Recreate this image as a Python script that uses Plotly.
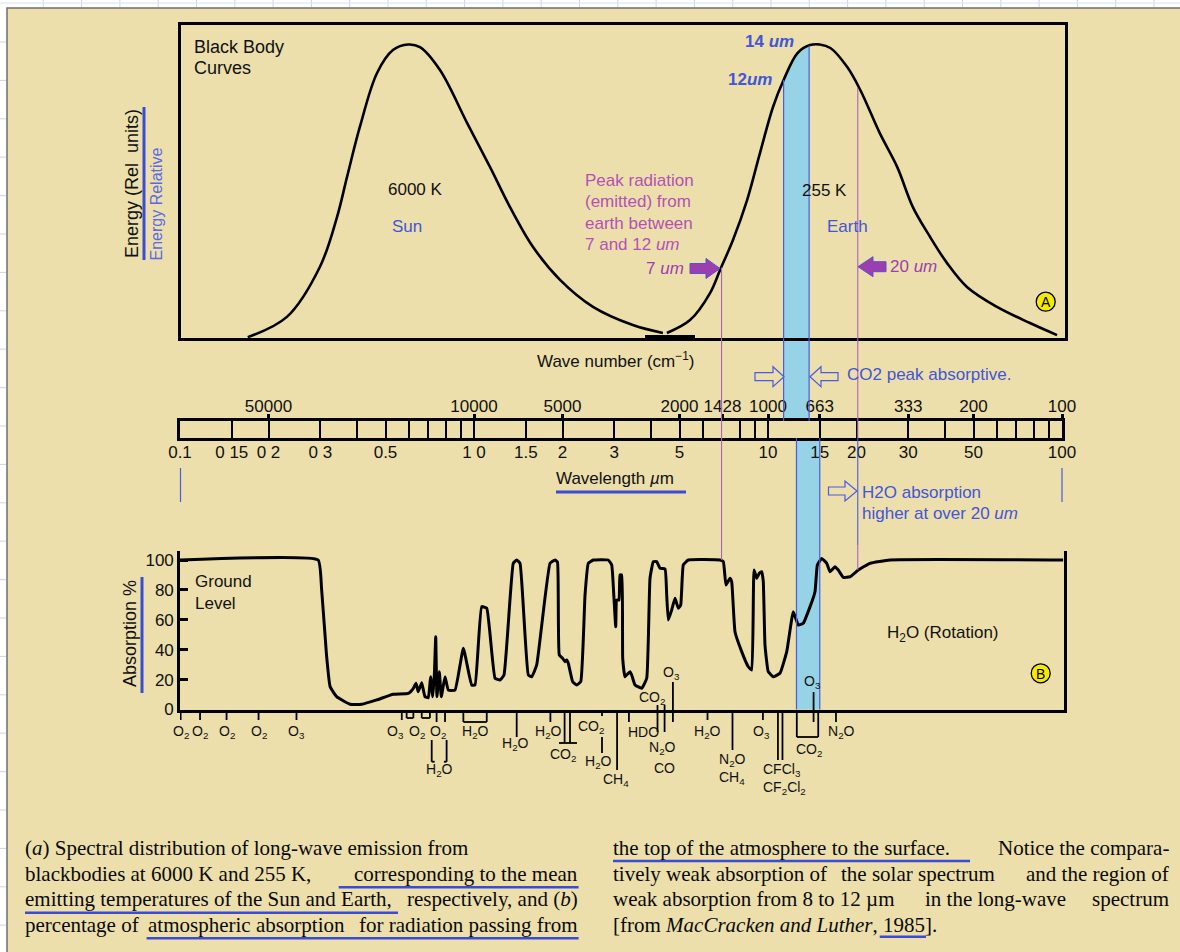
import math
import plotly.graph_objects as go

# ===================== data =====================
# (a) black-body curves, relative energy (peak = 100) vs wavelength (um)
sun_wavelength_um = [0.170, 0.231, 0.299, 0.342, 0.370, 0.409, 0.468, 0.530, 0.597, 0.655,
                     0.766, 0.947, 1.133, 1.326, 1.588, 1.962, 2.54, 3.47, 4.39]
sun_energy_rel = [0.3, 7.2, 24.2, 41.2, 54.9, 71.9, 90.3, 98.1, 100.0, 99.1,
                  91.3, 73.3, 58.3, 44.6, 31.0, 19.8, 10.6, 4.4, 1.7]

earth_wavelength_um = [4.53, 5.43, 6.35, 6.87, 7.60, 8.49, 9.39, 10.4, 11.3, 12.6,
                       13.9, 15.0, 16.3, 18.6, 20.6, 24.0, 27.5, 31.1, 35.6, 40.6,
                       47.5, 60.1, 77.8, 96.2]
earth_energy_rel = [1.7, 6.1, 15.3, 23.2, 33.4, 47.0, 63.0, 78.7, 87.9, 97.1,
                    99.8, 100.0, 98.8, 92.3, 84.5, 69.8, 58.3, 44.6, 34.4, 25.6,
                    17.4, 10.6, 5.1, 1.0]

# CO2 band shading (upper part follows the earth curve)
co2_band_upper_um = [11.3, 12.6, 13.8]
co2_band_upper_energy = [87.9, 97.1, 99.7]
co2_band_upper_edges_um = [11.3, 13.8]
co2_band_lower_edges_um = [12.5, 15.0]
marker_7um = 6.95
marker_20um = 20.2
energy_at_7um = 23.9
energy_at_20um = 85.2
absorb_at_7um = 100.0
absorb_at_20um = 93.3

# (b) atmospheric absorption (%) vs wavelength (um)
absorption_wavelength_um = [
    0.100, 0.295, 0.303, 0.315, 0.324, 0.341, 0.379, 0.415, 0.467, 0.531,
    0.598, 0.622, 0.635, 0.646, 0.664, 0.681, 0.699, 0.712, 0.724, 0.733,
    0.741, 0.748, 0.762, 0.774, 0.797, 0.818, 0.862, 0.920, 0.982, 1.008,
    1.062, 1.105, 1.179, 1.226, 1.265, 1.360, 1.397, 1.434, 1.530, 1.572,
    1.634, 1.814, 1.886, 1.923, 1.950, 2.003, 2.040, 2.067, 2.093, 2.166,
    2.235, 2.307, 2.386, 2.448, 2.546, 2.862, 2.940, 2.993, 3.034, 3.058,
    3.113, 3.137, 3.180, 3.205, 3.263, 3.393, 3.439, 3.529, 3.720, 3.868,
    3.969, 4.073, 4.183, 4.293, 4.464, 4.523, 4.580, 4.703, 4.828, 4.954,
    5.048, 5.151, 5.357, 6.866, 7.047, 7.196, 7.425, 7.524, 7.722, 8.139,
    8.570, 8.803, 8.963, 9.154, 9.342, 9.520, 9.638, 9.768, 10.02, 10.42,
    10.98, 11.58, 12.19, 12.68, 13.18, 13.90, 14.45, 14.72, 15.23, 15.84,
    16.25, 16.90, 17.34, 18.04, 19.01, 20.28, 22.23, 26.00, 101.0]
absorption_pct = [
    100.0, 100.0, 81.1, 36.5, 15.3, 8.6, 3.5, 3.5, 6.4, 10.2,
    10.8, 14.2, 17.5, 11.9, 17.9, 8.6, 7.9, 21.9, 8.6, 23.1,
    48.7, 8.6, 25.3, 8.6, 21.9, 13.0, 13.0, 40.9, 16.4, 16.4,
    68.8, 67.7, 20.9, 19.7, 23.1, 97.8, 100.0, 97.8, 23.1, 21.9,
    29.8, 97.8, 100.0, 98.5, 36.5, 34.2, 32.0, 33.1, 30.9, 18.6,
    16.4, 18.6, 76.6, 97.8, 100.0, 100.0, 96.7, 74.4, 55.4, 73.2,
    73.2, 90.0, 90.0, 34.2, 21.9, 25.3, 23.1, 16.4, 14.2, 20.9,
    87.8, 98.9, 98.9, 94.4, 94.0, 76.6, 59.9, 66.6, 74.4, 67.7,
    69.9, 96.7, 100.0, 100.0, 98.9, 83.3, 87.8, 85.5, 52.0, 38.7,
    28.6, 26.4, 93.3, 87.8, 91.1, 92.2, 85.5, 43.1, 25.3, 21.9,
    24.2, 38.7, 65.4, 56.5, 57.7, 68.8, 78.8, 96.7, 101.0, 97.8,
    92.2, 95.5, 93.3, 88.4, 88.8, 93.3, 97.8, 100.0, 100.0]
absorption_tick_vals = [0, 20, 40, 60, 80, 100]

# scale ruler
ruler_minor_um = [0.4, 0.6, 0.7, 0.8, 0.9, 4, 6, 8, 9, 40, 60, 70, 80, 90]
wavelength_label_um = [0.1, 0.15, 0.2, 0.3, 0.5, 1, 1.5, 2, 3, 5, 10, 15, 20, 30, 50, 100]
wavelength_label_text = ["0.1", "0 15", "0 2", "0 3", "0.5", "1 0", "1.5", "2", "3", "5",
                         "10", "15", "20", "30", "50", "100"]
wavenumber_label_um = [0.2, 1, 2, 5, 7, 10, 15, 30, 50, 100]
wavenumber_label_text = ["50000", "10000", "5000", "2000", "1428", "1000", "663", "333",
                         "200", "100"]

# absorbing gases below panel (b): name, band wavelength (um)
gas_names = ["O<sub>2</sub>", "O<sub>2</sub>", "O<sub>2</sub>", "O<sub>2</sub>", "O<sub>3</sub>",
             "O<sub>3</sub>", "O<sub>2</sub>", "O<sub>2</sub>", "H<sub>2</sub>O", "H<sub>2</sub>O",
             "H<sub>2</sub>O", "H<sub>2</sub>O", "CO<sub>2</sub>", "CO<sub>2</sub>", "H<sub>2</sub>O",
             "CH<sub>4</sub>", "HDO", "N<sub>2</sub>O", "CO", "CO<sub>2</sub>", "O<sub>3</sub>",
             "H<sub>2</sub>O", "N<sub>2</sub>O", "CH<sub>4</sub>", "O<sub>3</sub>", "CFCl<sub>3</sub>",
             "CF<sub>2</sub>Cl<sub>2</sub>", "CO<sub>2</sub>", "O<sub>3</sub>", "N<sub>2</sub>O"]
gas_band_um = [0.1005, 0.117, 0.144, 0.185, 0.249,
               0.539, 0.638, 0.756, 0.762, 1.008,
               1.379, 1.794, 2.007, 2.508, 2.653,
               3.050, 3.757, 4.390, 4.449, 4.031, 4.708,
               6.226, 7.572, 7.572, 9.467, 11.20,
               11.36, 13.74, 14.21, 17.77]
gas_label_row_px = [731.7, 731.7, 731.7, 731.7, 731.7,
                    731.7, 731.7, 731.7, 770, 731.7,
                    744, 731.7, 755, 727.3, 761.7,
                    780, 731.7, 748.3, 768.3, 698.3, 673.3,
                    731.7, 760, 778.3, 731.7, 770,
                    788.3, 750, 681.7, 731.7]
# single band lines: wavelength, (top px, bottom px)
gas_line_um = [0.1005, 0.117, 0.144, 0.185, 0.249, 0.568, 0.746, 0.797, 1.397, 1.819,
               2.033, 2.121, 2.725, 2.725, 3.067, 3.365, 4.209, 4.449, 4.749, 6.226,
               7.572, 9.610, 10.81, 11.20, 14.29, 17.03]
gas_line_px = [(710, 720), (710, 720), (710, 720), (710, 720), (710, 720), (710, 720),
               (710, 722), (710, 722), (710, 737), (710, 722), (710, 743), (710, 743),
               (710, 716), (737, 753), (710, 770), (710, 722), (705, 732), (705, 732),
               (682, 722), (710, 720), (710, 750), (710, 720), (710, 760), (710, 760),
               (692, 722), (710, 722)]
# brackets hanging from the axis: (left um, right um, bottom px)
gas_brackets = [(0.590, 0.622, 718), (0.664, 0.708, 718), (0.920, 1.105, 722),
                (12.53, 14.82, 737)]
gas_bars = [(1.946, 2.240, 743)]

# ===================== layout helpers =====================
W, H = 1180, 952
SANS = "Liberation Sans, Arial, Helvetica, sans-serif"
SERIF = "Liberation Serif, Times New Roman, serif"
BG = "#ECDFAB"
BLUE = "#4355D8"
LBLUE = "#5A6AE6"
PURPLE_T = "#B352B6"
PURPLE = "#9B3FB0"
BAND = "#97D3E6"
EDGE = "#4A5BE0"
PLINE = "#B060C0"
ULINE = "#3A4CD4"


def X(px):
    return px / W


def Y(py):
    return 1 - py / H


def LX(px):  # log10(um) at a pixel column: 1 um at 474 px, 294 px per decade
    return (px - 474.0) / 294.0


def top_py(v):  # pixel row of a value in panel (a)
    return 338 - v * 2.935


def bot_py(v):  # pixel row of a value in panel (b)
    return 709.5 - v * 1.495


def txt(s, px, py, size=17, color="#111111", xa="left", ya="middle", fam=SANS, angle=0):
    return dict(text=s, x=X(px), y=Y(py), xref="paper", yref="paper", showarrow=False,
                xanchor=xa, yanchor=ya, textangle=angle,
                font=dict(size=size, color=color, family=fam))


def seg(x0, y0, x1, y1, color="black", width=1.0, xref="paper"):
    return dict(type="line", xref=xref, yref="paper",
                x0=x0 if xref != "paper" else X(x0), x1=x1 if xref != "paper" else X(x1),
                y0=Y(y0), y1=Y(y1), line=dict(color=color, width=width))


def poly(points, fill, line_color, lw=1.0):
    path = "M " + " L ".join(f"{X(a):.5f},{Y(b):.5f}" for a, b in points) + " Z"
    return dict(type="path", xref="paper", yref="paper", path=path, fillcolor=fill,
                line=dict(color=line_color, width=lw))


def arrow(x0, x1, yc, head, h1, h2, fill, line_color, lw=1.0):
    d = 1 if x1 > x0 else -1
    xb = x1 - d * head
    pts = [(x0, yc - h1), (xb, yc - h1), (xb, yc - h2), (x1, yc), (xb, yc + h2),
           (xb, yc + h1), (x0, yc + h1)]
    return poly(pts, fill, line_color, lw)


# ===================== figure =====================
fig = go.Figure()

fig.add_trace(go.Scatter(x=co2_band_upper_um, y=co2_band_upper_energy, mode="lines",
                         fill="tozeroy", fillcolor=BAND, line=dict(width=0, shape="spline"),
                         xaxis="x", yaxis="y", hoverinfo="skip", showlegend=False))
fig.add_trace(go.Scatter(x=sun_wavelength_um, y=sun_energy_rel, mode="lines",
                         line=dict(color="black", width=2.6, shape="spline", smoothing=1.0),
                         xaxis="x", yaxis="y", showlegend=False, name="Sun 6000 K"))
fig.add_trace(go.Scatter(x=earth_wavelength_um, y=earth_energy_rel, mode="lines",
                         line=dict(color="black", width=2.6, shape="spline", smoothing=1.0),
                         xaxis="x", yaxis="y", showlegend=False, name="Earth 255 K"))
fig.add_trace(go.Scatter(x=absorption_wavelength_um, y=absorption_pct, mode="lines",
                         line=dict(color="black", width=3, shape="spline", smoothing=0.35),
                         xaxis="x2", yaxis="y2", showlegend=False, name="Absorption"))
fig.add_trace(go.Scatter(x=wavelength_label_um, y=[0.5] * len(wavelength_label_um),
                         mode="markers", marker=dict(opacity=0), xaxis="x3", yaxis="y3",
                         hoverinfo="skip", showlegend=False))
fig.add_trace(go.Scatter(x=wavenumber_label_um, y=[0.5] * len(wavenumber_label_um),
                         mode="markers", marker=dict(opacity=0), xaxis="x4", yaxis="y3",
                         hoverinfo="skip", showlegend=False))

box = dict(showline=True, linecolor="black", linewidth=2.6, showgrid=False, zeroline=False,
           ticks="", showticklabels=False, fixedrange=True, automargin=False)
tfont = dict(size=17, family=SANS, color="#111111")

fig.update_layout(
    template="none",
    width=W, height=H, margin=dict(l=0, r=0, t=0, b=0, pad=0), autosize=False,
    paper_bgcolor="white", plot_bgcolor="rgba(0,0,0,0)", showlegend=False,
    font=dict(family=SANS, color="#111111"),
    xaxis=dict(box, type="log", domain=[X(181), X(1065)], range=[LX(181), LX(1065)],
               anchor="y", mirror=True),
    yaxis=dict(box, domain=[Y(338), Y(25)], range=[0, (338 - 25) / 2.935], anchor="x",
               mirror=True),
    xaxis2=dict(box, type="log", domain=[X(180), X(1063.6)], range=[LX(180), LX(1063.6)],
                anchor="y2", mirror=False),
    yaxis2=dict(box, domain=[Y(709.5), Y(551)], range=[0, (709.5 - 551) / 1.495],
                anchor="x2", mirror=True, ticks="inside", ticklen=8, tickwidth=2.5,
                tickcolor="black", tickvals=absorption_tick_vals, showticklabels=True,
                tickfont=tfont),
    xaxis3=dict(box, type="log", domain=[X(180), X(1062)], range=[LX(180), LX(1062)],
                anchor="y3", mirror=True, ticks="inside", ticklen=17, tickwidth=2.2,
                tickcolor="black", tickvals=wavelength_label_um, ticktext=wavelength_label_text,
                showticklabels=True, tickangle=0, tickfont=tfont, ticklabelstandoff=-3,
                minor=dict(tickvals=ruler_minor_um, ticks="inside", ticklen=17, tickwidth=2.2,
                           tickcolor="black", showgrid=False)),
    yaxis3=dict(box, domain=[Y(438), Y(421)], range=[0, 1], anchor="x3", mirror=True),
    xaxis4=dict(box, type="log", domain=[X(180), X(1062)], range=[LX(180), LX(1062)],
                anchor="y3", overlaying="x3", side="top", showline=False, ticks="outside",
                ticklen=6, tickwidth=2.5, tickcolor="black", tickvals=wavenumber_label_um,
                ticktext=wavenumber_label_text, showticklabels=True, tickangle=0,
                tickfont=tfont, ticklabelstandoff=-5),
)

shapes = []
# page background and spreadsheet strip
shapes.append(dict(type="rect", xref="paper", yref="paper", x0=X(7), x1=X(1181), y0=Y(953),
                   y1=Y(8), fillcolor=BG, line=dict(color="#6E6E6E", width=1.5), layer="below"))
gx = 43.3
while gx < W:
    shapes.append(dict(type="line", xref="paper", yref="paper", x0=X(gx), x1=X(gx), y0=Y(0),
                       y1=Y(7), line=dict(color="#C6D6EE", width=1), layer="below"))
    gx += 38.3
gy = 42.0
while gy < H:
    shapes.append(dict(type="line", xref="paper", yref="paper", x0=X(0), x1=X(6), y0=Y(gy),
                       y1=Y(gy), line=dict(color="#C6D6EE", width=1), layer="below"))
    gy += 38.4
shapes.append(dict(type="line", xref="paper", yref="paper", x0=X(0), x1=X(W), y0=Y(3),
                   y1=Y(3), line=dict(color="#D6E2F2", width=1), layer="below"))

# CO2 band: extension of the upper band below panel (a), lower band through panel (b)
shapes.append(dict(type="rect", xref="x", yref="paper", x0=co2_band_upper_edges_um[0],
                   x1=co2_band_upper_edges_um[1], y0=Y(421), y1=Y(338), fillcolor=BAND,
                   line=dict(width=0), layer="below"))
shapes.append(dict(type="rect", xref="x2", yref="paper", x0=co2_band_lower_edges_um[0],
                   x1=co2_band_lower_edges_um[1], y0=Y(709.5), y1=Y(438), fillcolor=BAND,
                   line=dict(width=0), layer="below"))
for xv, v in zip(co2_band_upper_edges_um, [co2_band_upper_energy[0], co2_band_upper_energy[-1]]):
    shapes.append(seg(xv, top_py(v), xv, 421, EDGE, 1.2, xref="x"))
for xv in co2_band_lower_edges_um:
    shapes.append(seg(xv, 438, xv, 709.5, EDGE, 1.2, xref="x2"))

# 7 um and 20 um guide lines
shapes.append(seg(marker_7um, top_py(energy_at_7um), marker_7um, bot_py(absorb_at_7um),
                  PLINE, 1.1, xref="x"))
shapes.append(seg(marker_20um, top_py(energy_at_20um), marker_20um, 438, PLINE, 1.1, xref="x"))
shapes.append(seg(marker_20um, 438, marker_20um, 545, EDGE, 1.1, xref="x"))
shapes.append(seg(marker_20um, 545, marker_20um, bot_py(absorb_at_20um), PLINE, 1.1, xref="x"))

# small blue markers at the ruler ends, label underlines
shapes.append(seg(180.5, 468, 180.5, 502, EDGE, 1.2))
shapes.append(seg(1062, 468, 1062, 502, EDGE, 1.2))
shapes.append(seg(556, 492, 686, 492, ULINE, 3))
shapes.append(seg(144, 107, 144, 260, ULINE, 3))
shapes.append(seg(142, 577, 142, 693, ULINE, 3))
shapes.append(seg(645, 336.5, 695, 336.5, "black", 3))

# arrows
shapes.append(arrow(690, 720, 268.5, 14, 5, 10, PURPLE, "#5A4FD0", 1))
shapes.append(arrow(886, 858, 266.7, 15, 5, 10, PURPLE, "#5A4FD0", 1))
shapes.append(arrow(755, 784, 376.7, 11, 4, 10, BG, EDGE, 1.2))
shapes.append(arrow(838, 810, 376.7, 11, 4, 10, BG, EDGE, 1.2))
shapes.append(arrow(828.5, 857, 491, 12, 4, 10, BG, EDGE, 1.2))

# circled panel letters
for cx, cy in [(1045.7, 301.7), (1040.7, 673.3)]:
    shapes.append(dict(type="circle", xref="paper", yref="paper", x0=X(cx - 9.5), x1=X(cx + 9.5),
                       y0=Y(cy + 9.5), y1=Y(cy - 9.5), fillcolor="#F5EA00",
                       line=dict(color="black", width=1.3)))

# gas band lines and brackets under panel (b)
for xv, (pa, pb) in zip(gas_line_um, gas_line_px):
    shapes.append(seg(xv, pa, xv, pb, "black", 1.8, xref="x2"))
for xa, xb, pb in gas_brackets:
    shapes.append(seg(xa, 710, xa, pb, "black", 1.8, xref="x2"))
    shapes.append(seg(xb, 710, xb, pb, "black", 1.8, xref="x2"))
    shapes.append(seg(xa, pb, xb, pb, "black", 1.8, xref="x2"))
for xa, xb, pb in gas_bars:
    shapes.append(seg(xa, pb, xb, pb, "black", 1.8, xref="x2"))
# free-standing H2O bracket
for xv in [0.718, 0.807]:
    shapes.append(seg(xv, 740, xv, 761.7, "black", 1.8, xref="x2"))
shapes.append(seg(0.718, 761.7, 0.735, 761.7, "black", 1.8, xref="x2"))
shapes.append(seg(0.790, 761.7, 0.807, 761.7, "black", 1.8, xref="x2"))

# caption underlines
for x0, x1, yy in [(338.7, 578.6, 887.3), (25, 398, 912.7), (146.6, 578.6, 938.3),
                   (613, 970, 861), (879.7, 926, 936.7)]:
    shapes.append(seg(x0, yy, x1, yy, ULINE, 2.5))

ann = []
ann += [txt("Black Body", 192, 47, 18), txt("Curves", 192, 68.5, 18)]
ann += [txt("6000 K", 386, 190, 17), txt("Sun", 390, 226, 17, BLUE)]
ann += [txt("255 K", 800, 191, 17), txt("Earth", 825, 226, 17, BLUE)]
for i, line in enumerate(["Peak radiation", "(emitted) from", "earth between",
                          "7 and 12 <i>um</i>"]):
    ann.append(txt(line, 583, 180 + i * 21.6, 17, PURPLE_T))
ann.append(txt("7 <i>um</i>", 686, 268, 17, PURPLE, xa="right"))
ann.append(txt("20 <i>um</i>", 888, 266, 17, PURPLE))
ann.append(txt("<b>14 <i>um</i></b>", 743, 42, 17, BLUE))
ann.append(txt("<b>12<i>um</i></b>", 726, 79, 17, BLUE))
ann.append(txt("A", 1045.7, 302, 14, "black", xa="center"))
ann.append(txt("B", 1040.7, 674, 14, "black", xa="center"))
ann.append(txt("Energy (Rel  units)", 132, 184, 18, angle=-90, xa="center"))
ann.append(txt("Energy Relative", 156, 263, 16, LBLUE, xa="center", ya="bottom", angle=-90))
ann.append(txt("Absorption %", 130, 634, 18, angle=-90, xa="center"))
ann.append(txt("Wave number (cm<sup>−1</sup>)", 535, 360, 17))
ann.append(txt("CO2 peak absorptive.", 845, 375, 17, BLUE))
ann.append(txt("H2O absorption", 860, 492, 17, BLUE))
ann.append(txt("higher at over 20 <i>um</i>", 860, 513.5, 17, BLUE))
ann.append(txt("Wavelength <i>µ</i>m", 554, 478, 17))
ann.append(txt("Ground", 193, 581, 17))
ann.append(txt("Level", 193, 603, 17))
ann.append(txt("H<sub>2</sub>O (Rotation)", 885, 634, 17))

for name, xv, py in zip(gas_names, gas_band_um, gas_label_row_px):
    ann.append(dict(text=name, x=math.log10(xv), y=Y(py), xref="x2", yref="paper",
                    showarrow=False, xanchor="center", yanchor="middle",
                    font=dict(size=14, family=SANS, color="#111111")))

# caption (justified lines approximated by pieces placed at the reference word positions)
cap_rows = [848, 873.5, 899, 924.5]
left_cap = [
    [("(<i>a</i>) Spectral distribution of long-wave emission from", 23, "left")],
    [("blackbodies at 6000 K and 255 K,", 23, "left"),
     ("corresponding to the mean", 580, "right")],
    [("emitting temperatures of the Sun and Earth,", 23, "left"),
     ("respectively, and (<i>b</i>)", 580, "right")],
    [("percentage of", 23, "left"), ("atmospheric absorption", 146, "left"),
     ("for radiation passing from", 580, "right")],
]
right_cap = [
    [("the top of the atmosphere to the surface.", 611, "left"),
     ("Notice the compara-", 1171, "right")],
    [("tively weak absorption of", 611, "left"), ("the solar spectrum", 839, "left"),
     ("and the region of", 1171, "right")],
    [("weak absorption from 8 to 12 µm", 611, "left"), ("in the long-wave", 923, "left"),
     ("spectrum", 1171, "right")],
    [("[from <i>MacCracken and Luther</i>, 1985].", 611, "left")],
]
for rows in (left_cap, right_cap):
    for r, pieces in enumerate(rows):
        for s, px, xa in pieces:
            ann.append(txt(s, px, cap_rows[r], 21, "#0A0A0A", xa=xa, fam=SERIF))

fig.update_layout(shapes=shapes, annotations=ann)
fig.write_html("out.html", include_plotlyjs=True, config={"displayModeBar": False},
               post_script="document.body.style.margin='0px';"
                           "document.body.style.overflow='hidden';")
